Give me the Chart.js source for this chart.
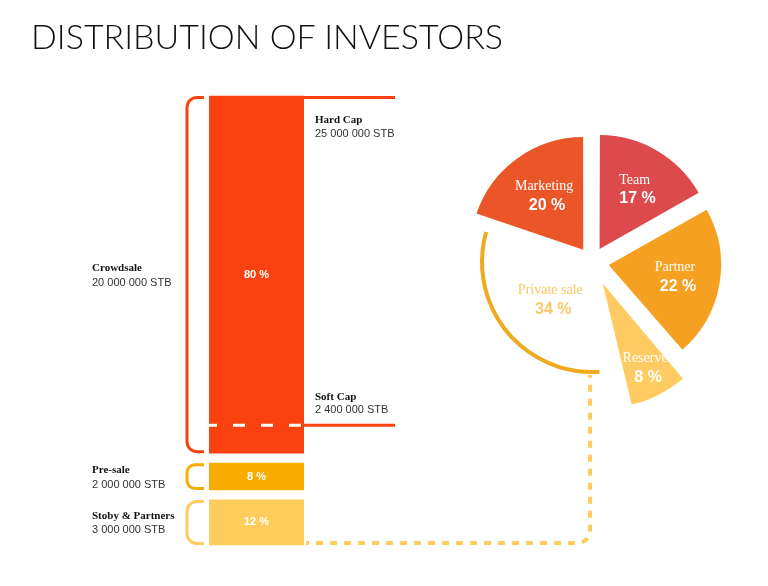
<!DOCTYPE html>
<html>
<head>
<meta charset="utf-8">
<script src="https://cdn.jsdelivr.net/npm/chart.js@4.4.1/dist/chart.umd.min.js"></script>
<style>
  body { margin: 0; background: #fff; }
  #wrap { position: relative; width: 768px; height: 586px; overflow: hidden; }
  #title { position: absolute; left: 31px; top: 19px; margin: 0; font: 300 34px/1 Lato, "Open Sans", sans-serif; color: #111; white-space: nowrap; }
  #barCanvas { position: absolute; left: 0; top: 0; }
  #pieCanvas { position: absolute; left: 432px; top: 102px; }
</style>
</head>
<body>
<div id="wrap">
  <canvas id="barCanvas" width="768" height="586"></canvas>
  <canvas id="pieCanvas" width="320" height="320"></canvas>
  <h1 id="title">DISTRIBUTION OF INVESTORS</h1>
</div>
<script>
// stacked bar (top to bottom)
var stages = ['Crowdsale', 'Pre-sale', 'Stoby & Partners'];
var stageShares = [80, 8, 12];
var stageAmounts = ['20 000 000 STB', '2 000 000 STB', '3 000 000 STB'];
var stageColors = ['#FA4211', '#F9AC00', '#FECC5C'];

// cap marks on the crowdsale bar (position in % of the bar)
var capNames = ['Hard Cap', 'Soft Cap'];
var capAmounts = ['25 000 000 STB', '2 400 000 STB'];
var capLevels = [100, 27.5];

// pie
var pieLabels = ['Team', 'Partner', 'Reserve', 'Private sale', 'Marketing'];
var pieValues = [17, 22, 8, 34, 20];
var pieColors = ['#DC4A4C', '#F5A020', '#FECB62', '#F0AA20', '#EA5628'];
var pieShift = [15, 17, 24, 0, 15];
var labelDist = [0.62, 0.6, 0.84, 0.5, 0.6];
var outlined = 3; // private sale is drawn as an outline only

var serif = "'Liberation Serif', 'Times New Roman', serif";
var sans = "'Liberation Sans', Arial, sans-serif";

var pieDecor = {
  id: 'pieDecor',
  afterDatasetsDraw: function(chart) {
    var ctx = chart.ctx;
    var arcs = chart.getDatasetMeta(0).data;
    arcs.forEach(function(arc, i) {
      var p = arc.getProps(['x', 'y', 'startAngle', 'endAngle', 'outerRadius'], true);
      var mid = (p.startAngle + p.endAngle) / 2;
      var cx = p.x + Math.cos(mid) * pieShift[i];
      var cy = p.y + Math.sin(mid) * pieShift[i];
      ctx.save();
      if (i === outlined) {
        ctx.beginPath();
        ctx.arc(p.x, p.y, p.outerRadius - 2, p.startAngle + 0.15, p.endAngle - 0.05);
        ctx.strokeStyle = pieColors[i];
        ctx.lineWidth = 4;
        ctx.stroke();
      }
      var r = p.outerRadius * labelDist[i];
      var lx = cx + Math.cos(mid) * r, ly = cy + Math.sin(mid) * r;
      ctx.textAlign = 'center';
      ctx.textBaseline = 'middle';
      ctx.fillStyle = i === outlined ? '#FCC764' : '#fff';
      ctx.font = '14px ' + serif;
      ctx.fillText(pieLabels[i], lx, ly - 9);
      ctx.font = 'bold 16px ' + sans;
      ctx.fillText(pieValues[i] + ' %', lx + 3, ly + 10);
      ctx.restore();
    });
  }
};

var pieChart = new Chart(document.getElementById('pieCanvas'), {
  type: 'pie',
  data: {
    labels: pieLabels,
    datasets: [{
      data: pieValues,
      backgroundColor: function(c) { return c.dataIndex === outlined ? 'rgba(0,0,0,0)' : pieColors[c.dataIndex]; },
      borderWidth: 0,
      // the arc element moves a slice by offset / 4
      offset: pieShift.map(function(s) { return s * 4; })
    }]
  },
  options: {
    responsive: false,
    animation: false,
    radius: 112,
    layout: { padding: 0 },
    plugins: { legend: { display: false }, tooltip: { enabled: false } }
  },
  plugins: [pieDecor]
});

var gap = 5;

var barDecor = {
  id: 'barDecor',
  afterDatasetsDraw: function(chart) {
    var ctx = chart.ctx;
    var yScale = chart.scales.y;
    var boxes = [];
    chart.data.datasets.forEach(function(ds, d) {
      var el = chart.getDatasetMeta(d).data[0];
      var p = el.getProps(['x', 'y', 'base', 'width'], true);
      boxes[ds.stage] = {
        left: p.x - p.width / 2, right: p.x + p.width / 2,
        top: Math.min(p.y, p.base) + gap, bottom: Math.max(p.y, p.base) - gap
      };
    });

    ctx.save();
    stages.forEach(function(name, i) {
      var b = boxes[i];
      var mid = (b.top + b.bottom) / 2;
      // bracket
      var xr = b.left - 5, xl = b.left - 22, t = b.top + 1.5, bt = b.bottom - 1.5;
      var rad = Math.min(10, (bt - t) / 3);
      ctx.beginPath();
      ctx.moveTo(xr, t);
      ctx.lineTo(xl + rad, t);
      ctx.arcTo(xl, t, xl, t + rad, rad);
      ctx.lineTo(xl, bt - rad);
      ctx.arcTo(xl, bt, xl + rad, bt, rad);
      ctx.lineTo(xr, bt);
      ctx.strokeStyle = stageColors[i];
      ctx.lineWidth = 3;
      ctx.stroke();
      // labels on the left
      ctx.textAlign = 'left';
      ctx.textBaseline = 'middle';
      ctx.fillStyle = '#111';
      ctx.font = 'bold 11px ' + serif;
      ctx.fillText(name, 92, mid - 6);
      ctx.fillStyle = '#333';
      ctx.font = '11px ' + sans;
      ctx.fillText(stageAmounts[i], 92, mid + 8);
      // share in the bar
      ctx.textAlign = 'center';
      ctx.fillStyle = '#fff';
      ctx.font = 'bold 11px ' + sans;
      ctx.fillText(stageShares[i] + ' %', (b.left + b.right) / 2, mid);
    });

    // hard / soft cap lines
    var crowd = boxes[0];
    capNames.forEach(function(name, i) {
      var y = Math.max(yScale.getPixelForValue(capLevels[i]), crowd.top) + 1.5;
      ctx.lineWidth = 3;
      ctx.setLineDash([]);
      ctx.strokeStyle = stageColors[0];
      ctx.beginPath();
      ctx.moveTo(crowd.right, y);
      ctx.lineTo(crowd.right + 91, y);
      ctx.stroke();
      var atTop = y < crowd.top + 4;
      if (!atTop) {
        ctx.strokeStyle = '#fff';
        ctx.setLineDash([12, 16]);
        ctx.lineDashOffset = 4;
        ctx.beginPath();
        ctx.moveTo(crowd.left, y);
        ctx.lineTo(crowd.right, y);
        ctx.stroke();
        ctx.setLineDash([]);
      }
      var ny = atTop ? y + 23 : y - 28;
      ctx.textAlign = 'left';
      ctx.fillStyle = '#111';
      ctx.font = 'bold 11px ' + serif;
      ctx.fillText(name, crowd.right + 11, ny);
      ctx.fillStyle = '#333';
      ctx.font = '11px ' + sans;
      ctx.fillText(capAmounts[i], crowd.right + 11, ny + 13);
    });

    // dotted link from the bottom block to the private sale slice
    var last = boxes[stages.length - 1];
    var arc = pieChart.getDatasetMeta(0).data[outlined];
    var pc = document.getElementById('pieCanvas');
    var px = pc.offsetLeft + arc.x - 2;
    var py = pc.offsetTop + arc.y + arc.outerRadius + 1;
    var hy = last.bottom - 2, cr = 12;
    ctx.strokeStyle = stageColors[2];
    ctx.lineWidth = 4;
    ctx.setLineDash([7, 7]);
    ctx.beginPath();
    ctx.moveTo(last.right + 2, hy);
    ctx.lineTo(px - cr, hy);
    ctx.arcTo(px, hy, px, hy - cr, cr);
    ctx.lineTo(px, py);
    ctx.stroke();
    ctx.restore();
  }
};

var barSets = stages.map(function(name, i) {
  return {
    label: name,
    stage: i,
    data: [stageShares[i]],
    backgroundColor: stageColors[i],
    borderColor: '#fff',
    borderWidth: { top: gap, bottom: gap },
    borderSkipped: false,
    barPercentage: 1,
    categoryPercentage: 1
  };
}).reverse();

new Chart(document.getElementById('barCanvas'), {
  type: 'bar',
  data: { labels: ['Distribution'], datasets: barSets },
  options: {
    responsive: false,
    animation: false,
    layout: { padding: { left: 209, right: 464, top: 91, bottom: 36 } },
    plugins: { legend: { display: false }, tooltip: { enabled: false } },
    scales: {
      x: { stacked: true, display: false },
      y: { stacked: true, display: false, min: 0, max: 100 }
    }
  },
  plugins: [barDecor]
});
</script>
</body>
</html>
